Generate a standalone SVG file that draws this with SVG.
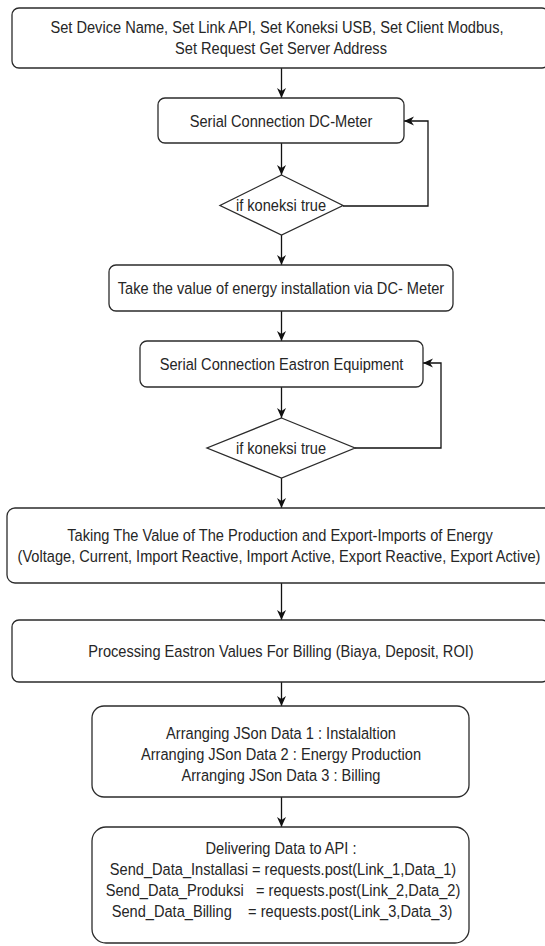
<svg xmlns="http://www.w3.org/2000/svg" width="545" height="946" viewBox="0 0 545 946">
<style>
.box{fill:#fff;stroke:#2b2b2b;stroke-width:1.3}
.t{font-family:"Liberation Sans",Arial,sans-serif;font-size:17px;fill:#262626;text-anchor:middle;white-space:pre}
.c{fill:none;stroke:#111;stroke-width:1.3}
</style>
<defs>
<marker id="ah" markerUnits="userSpaceOnUse" markerWidth="12" markerHeight="10" refX="10" refY="4.5" orient="auto">
<path d="M0,0 L10,4.5 L0,9 L3,4.5 z" fill="#111"/>
</marker>
</defs>
<rect width="545" height="946" fill="#fff"/>
<g id="connectors">
<path class="c" marker-end="url(#ah)" d="M281.5,68 V98"/>
<path class="c" marker-end="url(#ah)" d="M281.5,143 V175"/>
<path class="c" marker-end="url(#ah)" d="M281.5,235 V265"/>
<path class="c" marker-end="url(#ah)" d="M343,206 H428 V121 H404"/>
<path class="c" marker-end="url(#ah)" d="M281.5,311 V341"/>
<path class="c" marker-end="url(#ah)" d="M281.5,387 V418"/>
<path class="c" marker-end="url(#ah)" d="M281.5,478 V508"/>
<path class="c" marker-end="url(#ah)" d="M355,448 H441 V363 H423"/>
<path class="c" marker-end="url(#ah)" d="M281.5,583 V620"/>
<path class="c" marker-end="url(#ah)" d="M281.5,682 V706"/>
<path class="c" marker-end="url(#ah)" d="M281.5,797 V827"/>
</g>
<g id="n1">
<rect class="box" x="12" y="8" width="537" height="60" rx="7"/>
<text class="t" transform="matrix(0.86 0 0 1 277 0)" x="0" y="33.5">Set Device Name, Set Link API, Set Koneksi USB, Set Client Modbus,</text>
<text class="t" transform="matrix(0.86 0 0 1 281 0)" x="0" y="54.5">Set Request Get Server Address</text>
</g>
<g id="n2">
<rect class="box" x="158" y="98" width="246" height="45" rx="7"/>
<text class="t" transform="matrix(0.86 0 0 1 281 0)" x="0" y="127">Serial Connection DC-Meter</text>
</g>
<g id="d1">
<polygon class="box" points="281.5,175 343,205.5 281.5,235 220,205.5"/>
<text class="t" transform="matrix(0.86 0 0 1 281 0)" x="0" y="211.5">if koneksi true</text>
</g>
<g id="n3">
<rect class="box" x="109" y="265" width="344" height="46" rx="7"/>
<text class="t" transform="matrix(0.86 0 0 1 281 0)" x="0" y="294">Take the value of energy installation via DC- Meter</text>
</g>
<g id="n4">
<rect class="box" x="140" y="341" width="283" height="46" rx="7"/>
<text class="t" transform="matrix(0.86 0 0 1 281.5 0)" x="0" y="370">Serial Connection Eastron Equipment</text>
</g>
<g id="d2">
<polygon class="box" points="281.5,418 355,448 281.5,478 207,448"/>
<text class="t" transform="matrix(0.86 0 0 1 281 0)" x="0" y="454">if koneksi true</text>
</g>
<g id="n5">
<rect class="box" x="7" y="508" width="548" height="75" rx="8"/>
<text class="t" transform="matrix(0.86 0 0 1 280 0)" x="0" y="541">Taking The Value of The Production and Export-Imports of Energy</text>
<text class="t" transform="matrix(0.86 0 0 1 279 0)" x="0" y="562">(Voltage, Current, Import Reactive, Import Active, Export Reactive, Export Active)</text>
</g>
<g id="n6">
<rect class="box" x="12" y="620" width="537" height="62" rx="7"/>
<text class="t" transform="matrix(0.86 0 0 1 281 0)" x="0" y="657">Processing Eastron Values For Billing (Biaya, Deposit, ROI)</text>
</g>
<g id="n7">
<rect class="box" x="92" y="706" width="377" height="91" rx="12"/>
<text class="t" transform="matrix(0.86 0 0 1 281 0)" x="0" y="739">Arranging JSon Data 1 : Instalaltion</text>
<text class="t" transform="matrix(0.86 0 0 1 281 0)" x="0" y="760">Arranging JSon Data 2 : Energy Production</text>
<text class="t" transform="matrix(0.86 0 0 1 281 0)" x="0" y="781">Arranging JSon Data 3 : Billing</text>
</g>
<g id="n8">
<rect class="box" x="92" y="827" width="377" height="116" rx="14"/>
<text class="t" transform="matrix(0.86 0 0 1 281 0)" x="0" y="854">Delivering Data to API :</text>
<text class="t" transform="matrix(0.86 0 0 1 283 0)" x="0" y="875">Send_Data_Installasi = requests.post(Link_1,Data_1)</text>
<text class="t" transform="matrix(0.86 0 0 1 283 0)" x="0" y="896">Send_Data_Produksi   = requests.post(Link_2,Data_2)</text>
<text class="t" transform="matrix(0.86 0 0 1 282 0)" x="0" y="917">Send_Data_Billing    = requests.post(Link_3,Data_3)</text>
</g>
</svg>
